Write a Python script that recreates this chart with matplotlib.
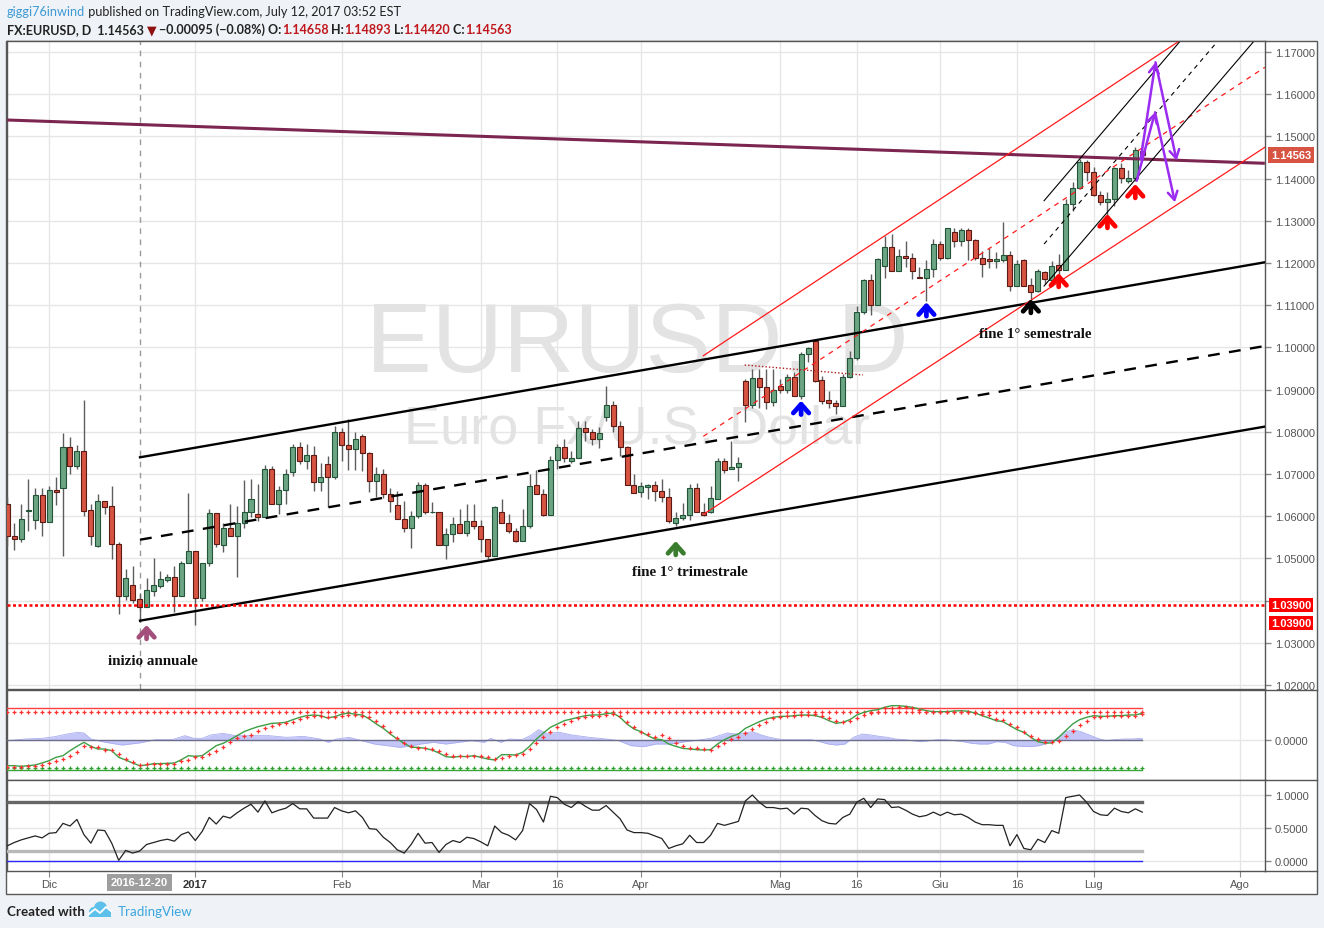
import numpy as np
import pandas as pd
import matplotlib
matplotlib.use("Agg")
import matplotlib.pyplot as plt
from matplotlib.patches import Rectangle, Ellipse
from matplotlib.lines import Line2D
from matplotlib.transforms import blended_transform_factory

W, H, DPI = 1324, 929, 100

# ---------------------------------------------------------------- data
bar_dates = pd.bdate_range("2016-11-23", "2017-07-12").drop(
    pd.to_datetime(["2016-12-26", "2017-01-02"]))

opens = [
    1.0629, 1.0554, 1.0547, 1.0612, 1.0592, 1.0650, 1.0587, 1.0661, 1.0666, 1.0763,
    1.0718, 1.0754, 1.0615, 1.0530, 1.0636, 1.0624, 1.0534, 1.0412, 1.0438, 1.0404,
    1.0385, 1.0423, 1.0435, 1.0449, 1.0457, 1.0410, 1.0489, 1.0517, 1.0405, 1.0488,
    1.0607, 1.0532, 1.0571, 1.0554, 1.0583, 1.0611, 1.0605, 1.0597, 1.0713, 1.0630,
    1.0663, 1.0704, 1.0763, 1.0730, 1.0746, 1.0680, 1.0724, 1.0692, 1.0799, 1.0769,
    1.0759, 1.0789, 1.0750, 1.0684, 1.0699, 1.0652, 1.0626, 1.0593, 1.0573, 1.0600,
    1.0675, 1.0609, 1.0609, 1.0532, 1.0557, 1.0581, 1.0560, 1.0588, 1.0576, 1.0547,
    1.0505, 1.0611, 1.0583, 1.0564, 1.0542, 1.0577, 1.0675, 1.0652, 1.0603, 1.0733,
    1.0765, 1.0731, 1.0739, 1.0810, 1.0799, 1.0784, 1.0834, 1.0863, 1.0813, 1.0765,
    1.0674, 1.0658, 1.0670, 1.0674, 1.0660, 1.0645, 1.0585, 1.0595, 1.0604, 1.0666,
    1.0611, 1.0611, 1.0641, 1.0730, 1.0712, 1.0716, 1.0920, 1.0864, 1.0927, 1.0906,
    1.0870, 1.0909, 1.0898, 1.0931, 1.0884, 1.0984, 1.1016, 1.0923, 1.0875, 1.0868,
    1.0862, 1.0929, 1.0976, 1.1083, 1.1160, 1.1100, 1.1194, 1.1237, 1.1182, 1.1217,
    1.1211, 1.1168, 1.1164, 1.1186, 1.1245, 1.1211, 1.1274, 1.1253, 1.1278, 1.1255,
    1.1213, 1.1209, 1.1204, 1.1208, 1.1219, 1.1145, 1.1206, 1.1148, 1.1133, 1.1178,
    1.1160, 1.1196, 1.1183, 1.1340, 1.1377, 1.1439, 1.1416, 1.1362, 1.1345, 1.1352,
    1.1424, 1.1395, 1.1401, 1.14658]
highs = [
    1.0645, 1.0585, 1.0629, 1.0688, 1.0668, 1.0668, 1.0672, 1.0692, 1.0797, 1.0787,
    1.0769, 1.0876, 1.0629, 1.0652, 1.0636, 1.0671, 1.0540, 1.0475, 1.0483, 1.0419,
    1.0453, 1.0501, 1.0471, 1.0463, 1.0481, 1.0494, 1.0655, 1.0517, 1.0489, 1.0617,
    1.0607, 1.0585, 1.0629, 1.0625, 1.0686, 1.0688, 1.0676, 1.0721, 1.0718, 1.0671,
    1.0712, 1.0771, 1.0776, 1.0770, 1.0767, 1.0726, 1.0743, 1.0814, 1.0808, 1.0830,
    1.0799, 1.0795, 1.0751, 1.0716, 1.0712, 1.0668, 1.0659, 1.0637, 1.0613, 1.0680,
    1.0678, 1.0633, 1.0609, 1.0573, 1.0597, 1.0618, 1.0630, 1.0630, 1.0592, 1.0547,
    1.0625, 1.0641, 1.0605, 1.0573, 1.0617, 1.0700, 1.0710, 1.0664, 1.0742, 1.0770,
    1.0783, 1.0755, 1.0825, 1.0826, 1.0806, 1.0812, 1.0909, 1.0874, 1.0826, 1.0767,
    1.0701, 1.0682, 1.0676, 1.0684, 1.0687, 1.0668, 1.0609, 1.0631, 1.0676, 1.0679,
    1.0631, 1.0671, 1.0737, 1.0737, 1.0779, 1.0741, 1.0925, 1.0950, 1.0950, 1.0949,
    1.0949, 1.0925, 1.0937, 1.0941, 1.0988, 1.1000, 1.1020, 1.0933, 1.0897, 1.0876,
    1.0937, 1.0992, 1.1099, 1.1162, 1.1174, 1.1213, 1.1265, 1.1269, 1.1233, 1.1251,
    1.1224, 1.1190, 1.1206, 1.1257, 1.1253, 1.1284, 1.1284, 1.1284, 1.1284, 1.1257,
    1.1229, 1.1235, 1.1225, 1.1296, 1.1229, 1.1206, 1.1210, 1.1164, 1.1185, 1.1180,
    1.1205, 1.1221, 1.1352, 1.1391, 1.1447, 1.1445, 1.1427, 1.1371, 1.1369, 1.1427,
    1.1438, 1.1420, 1.1474, 1.14893]
lows = [
    1.0530, 1.0521, 1.0539, 1.0566, 1.0570, 1.0554, 1.0587, 1.0626, 1.0506, 1.0700,
    1.0712, 1.0601, 1.0532, 1.0528, 1.0605, 1.0498, 1.0368, 1.0402, 1.0394, 1.0350,
    1.0385, 1.0410, 1.0430, 1.0443, 1.0372, 1.0410, 1.0489, 1.0343, 1.0400, 1.0483,
    1.0526, 1.0514, 1.0554, 1.0457, 1.0573, 1.0597, 1.0589, 1.0597, 1.0629, 1.0605,
    1.0629, 1.0696, 1.0724, 1.0713, 1.0660, 1.0660, 1.0621, 1.0688, 1.0731, 1.0710,
    1.0710, 1.0708, 1.0658, 1.0645, 1.0642, 1.0611, 1.0593, 1.0563, 1.0524, 1.0595,
    1.0605, 1.0607, 1.0532, 1.0498, 1.0539, 1.0560, 1.0554, 1.0570, 1.0516, 1.0498,
    1.0505, 1.0583, 1.0560, 1.0538, 1.0542, 1.0572, 1.0652, 1.0601, 1.0603, 1.0712,
    1.0729, 1.0727, 1.0739, 1.0779, 1.0769, 1.0761, 1.0826, 1.0800, 1.0743, 1.0674,
    1.0655, 1.0645, 1.0641, 1.0635, 1.0633, 1.0584, 1.0576, 1.0592, 1.0592, 1.0609,
    1.0601, 1.0608, 1.0640, 1.0702, 1.0712, 1.0684, 1.0824, 1.0856, 1.0856, 1.0854,
    1.0860, 1.0892, 1.0892, 1.0884, 1.0878, 1.0965, 1.0917, 1.0866, 1.0856, 1.0842,
    1.0860, 1.0927, 1.0970, 1.1079, 1.1077, 1.1100, 1.1164, 1.1180, 1.1182, 1.1190,
    1.1162, 1.1164, 1.1111, 1.1168, 1.1206, 1.1210, 1.1237, 1.1241, 1.1206, 1.1206,
    1.1168, 1.1188, 1.1188, 1.1202, 1.1134, 1.1145, 1.1145, 1.1115, 1.1131, 1.1150,
    1.1158, 1.1168, 1.1183, 1.1324, 1.1375, 1.1395, 1.1358, 1.1338, 1.1308, 1.1336,
    1.1390, 1.1390, 1.1395, 1.14420]
closes = [
    1.0554, 1.0547, 1.0593, 1.0614, 1.0650, 1.0587, 1.0662, 1.0658, 1.0763, 1.0718,
    1.0754, 1.0613, 1.0554, 1.0636, 1.0622, 1.0533, 1.0412, 1.0453, 1.0402, 1.0385,
    1.0425, 1.0437, 1.0451, 1.0457, 1.0410, 1.0489, 1.0518, 1.0406, 1.0489, 1.0607,
    1.0533, 1.0571, 1.0554, 1.0583, 1.0611, 1.0640, 1.0597, 1.0713, 1.0630, 1.0663,
    1.0699, 1.0763, 1.0730, 1.0746, 1.0680, 1.0692, 1.0692, 1.0799, 1.0769, 1.0759,
    1.0784, 1.0750, 1.0684, 1.0699, 1.0652, 1.0635, 1.0593, 1.0573, 1.0600, 1.0675,
    1.0609, 1.0610, 1.0532, 1.0557, 1.0581, 1.0560, 1.0588, 1.0576, 1.0547, 1.0505,
    1.0622, 1.0583, 1.0564, 1.0542, 1.0577, 1.0671, 1.0652, 1.0603, 1.0733, 1.0765,
    1.0739, 1.0739, 1.0810, 1.0799, 1.0784, 1.0797, 1.0863, 1.0813, 1.0765, 1.0674,
    1.0656, 1.0671, 1.0673, 1.0660, 1.0645, 1.0589, 1.0595, 1.0604, 1.0666, 1.0611,
    1.0603, 1.0642, 1.0730, 1.0710, 1.0716, 1.0725, 1.0864, 1.0927, 1.0906, 1.0870,
    1.0898, 1.0898, 1.0931, 1.0884, 1.0984, 1.0998, 1.0921, 1.0874, 1.0868, 1.0862,
    1.0931, 1.0976, 1.1083, 1.1160, 1.1100, 1.1209, 1.1237, 1.1182, 1.1217, 1.1211,
    1.1180, 1.1164, 1.1186, 1.1245, 1.1211, 1.1282, 1.1253, 1.1278, 1.1255, 1.1213,
    1.1198, 1.1204, 1.1209, 1.1219, 1.1145, 1.1198, 1.1146, 1.1132, 1.1180, 1.1162,
    1.1193, 1.1184, 1.1340, 1.1377, 1.1439, 1.1416, 1.1362, 1.1345, 1.1352, 1.1424,
    1.1401, 1.1401, 1.1468, 1.14563]

# oscillator panel (green line, trailing red crosses, blue area)
osc_green = [
    -77, -77, -79, -77, -75, -69, -62, -52, -47, -32,
    -19, -7, -19, -27, -27, -32, -52, -60, -69, -77,
    -75, -71, -71, -70, -69, -59, -47, -49, -47, -32,
    -17, -10, 1, 13, 25, 33, 40, 45, 50, 51,
    53, 61, 68, 73, 75, 73, 66, 70, 77, 81,
    77, 75, 63, 48, 35, 18, 3, -10, -22, -22,
    -25, -30, -39, -50, -52, -49, -50, -47, -52, -57,
    -60, -44, -44, -45, -37, -19, 3, 21, 38, 48,
    58, 63, 68, 73, 75, 75, 79, 81, 68, 48,
    33, 25, 13, 3,
    1, -12, -19, -25, -27, -29, -30, -29, -12, 1,
    11, 18, 35, 45, 55, 63, 68, 71, 71, 73,
    75, 75, 73, 68, 58, 50, 53, 61, 75, 83,
    88, 91, 98, 103, 103, 101, 98, 93, 88, 85,
    85, 85, 87, 88, 86, 81, 73, 66, 58, 55,
    43, 31, 23, 8, -5, -9, -9, 8, 28, 48,
    61, 68, 73, 71, 71, 73, 73, 75, 75, 80]
osc_red = [
    -82, -82, -82, -79, -77, -75, -69, -64, -57, -47,
    -37, -19, -22, -22, -29, -30, -42, -57, -67, -74,
    -72, -72, -72, -72, -71, -63, -59, -51, -51, -42,
    -32, -22, -7, 5, 13, 15, 28, 35, 43, 48,
    51, 55, 63, 68, 71, 71, 68, 68, 71, 75,
    75, 73, 68, 58, 43, 23, 5, -9, -19, -25,
    -25, -27, -32, -42, -47, -47, -49, -49, -47, -52,
    -57, -55, -47, -45, -42, -27, -9, 8, 25, 38,
    48, 58, 65, 68, 73, 73, 75, 78, 73, 53,
    38, 25, 18, 8,
    15, 5, -9, -19, -24, -25, -27, -29, -19, -9,
    3, 8, 21, 33, 45, 55, 65, 68, 71, 73,
    75, 75, 78, 73, 65, 58, 53, 58, 65, 75,
    81, 85, 95, 95, 98, 98, 95, 91, 85, 85,
    85, 85, 85, 85, 83, 81, 78, 75, 63, 61,
    48, 38, 25, 13, 3, -5, -7, -2, 13, 28,
    45, 58, 68, 68, 71, 71, 71, 73, 73, 78]
area_x = [0.2, 2.6, 5.0, 6.8, 8.6, 10.1, 11.0, 12.0, 14.1, 16.5, 18.9, 21.3, 23.7, 25.5,
          26.8, 28.0, 29.2, 31.0, 32.8, 35.2, 37.6, 40.1, 42.5, 44.9, 46.1, 47.3, 49.1,
          50.9, 52.7, 54.6, 56.4, 58.2, 59.4, 61.2, 63.0, 64.8, 66.7, 68.5, 69.4, 70.9,
          72.1, 73.9, 75.1, 76.3, 77.5, 79.3, 81.1, 83.6, 86.0, 87.8, 89.6, 91.4, 93.2,
          94.9, 96.2, 97.4, 98.6, 99.8, 101.0, 102.2, 103.4, 104.6, 105.8, 107.0, 108.3,
          109.5, 110.7, 111.9, 113.1, 114.3, 115.5, 116.7, 117.9, 119.1, 120.3, 121.5,
          122.8, 124.0, 125.2, 126.4, 127.6, 128.8, 130.0, 131.2, 132.4, 133.6, 134.8,
          136.1, 137.3, 138.5, 139.7, 140.9, 142.1, 143.3, 144.5, 145.7, 146.9, 148.2,
          149.4, 150.6, 151.8, 153.0, 154.2, 155.4, 156.6, 157.8, 159.0, 160.3, 161.5,
          163.0]
area_v = [-2, 3, 5, 10, 18, 23, 21, 3, -7, -15, -9, 1, 1, 13,
          5, 5, 15, 20, 13, 13, 13, 8, 11, 3, -7, 3, 8,
          -2, -12, -17, -22, -17, -12, -7, -12, -7, -2, -7, 5, -7,
          3, 1, 13, 31, 20, 23, 15, 8, 3, -2, -17, -20, -12,
          -12, -9, -5, -2, 1, 5, 13, 21, 18, 21, 25, 15,
          8, 3, 1, 1, 1, 1, -5, -12, -15, -12, 8,
          18, 15, 11, 8, 3, 1, -2, -5, -2, 1, 1,
          -2, -5, -10, -12, -12, -5, -7, -17, -19, -20, -17,
          -9, 3, 23, 31, 25, 15, 5, -2, 1, 3, 3,
          5]
osc_upper, osc_upper_dots = 95, 83
osc_lower, osc_lower_dots = -91, -83

stoch = [
    0.23, 0.28, 0.32, 0.35, 0.38, 0.35, 0.42, 0.43, 0.57, 0.53,
    0.63, 0.40, 0.27, 0.47, 0.46, 0.27, 0.01, 0.16, 0.12, 0.15,
    0.25, 0.28, 0.31, 0.33, 0.30, 0.40, 0.44, 0.31, 0.45, 0.66,
    0.56, 0.68, 0.65, 0.73, 0.80, 0.86, 0.74, 0.91, 0.73, 0.77,
    0.80, 0.87, 0.79, 0.79, 0.65, 0.65, 0.65, 0.81, 0.76, 0.73,
    0.76, 0.66, 0.49, 0.48, 0.36, 0.28, 0.17, 0.12, 0.25, 0.42,
    0.27, 0.28, 0.13, 0.25, 0.31, 0.28, 0.36, 0.34, 0.29, 0.23,
    0.53, 0.43, 0.39, 0.32, 0.46, 0.87, 0.78, 0.59, 0.98, 0.96,
    0.86, 0.81, 0.90, 0.83, 0.77, 0.77, 0.84, 0.74, 0.64, 0.47,
    0.43, 0.43, 0.42, 0.38,
    0.34, 0.19, 0.23, 0.26, 0.39, 0.28, 0.28, 0.39, 0.57, 0.54,
    0.57, 0.60, 0.91, 1.00, 0.89, 0.81, 0.81, 0.79, 0.80, 0.71,
    0.80, 0.79, 0.69, 0.61, 0.57, 0.56, 0.66, 0.71, 0.89, 0.95,
    0.81, 0.94, 0.93, 0.81, 0.82, 0.77, 0.71, 0.67, 0.69, 0.74,
    0.69, 0.74, 0.70, 0.71, 0.66, 0.59, 0.55, 0.55, 0.54, 0.54,
    0.23, 0.40, 0.19, 0.17, 0.33, 0.28, 0.46, 0.42, 0.96, 0.98,
    1.00, 0.89, 0.75, 0.70, 0.69, 0.80, 0.75, 0.73, 0.79, 0.74]
stoch_high, stoch_low = 0.9, 0.15

price_ticks = [1.02, 1.03, 1.04, 1.05, 1.06, 1.07, 1.08, 1.09, 1.10, 1.11,
               1.12, 1.13, 1.14, 1.15, 1.16, 1.17]
tick_dates = ["2016-12-01", "2017-01-03", "2017-02-01", "2017-03-01", "2017-03-16",
              "2017-04-03", "2017-05-01", "2017-05-16", "2017-06-01", "2017-06-16",
              "2017-07-03", "2017-08-01"]
tick_texts = ["Dic", "2017", "Feb", "Mar", "16", "Apr", "Mag", "16", "Giu", "16", "Lug", "Ago"]
cursor_date = "2016-12-20"

last_price = 1.14563
support_level = 1.039

# drawings: (bar, price) endpoints
maroon_line = [(-0.04, 1.15389), (180.6, 1.14363)]
chan_upper = [(19.06, 1.07396), (180.6, 1.12017)]
chan_mid = [(19.06, 1.05443), (180.6, 1.10033)]
chan_lower = [(19.06, 1.03524), (180.6, 1.08123)]
red_upper = [(99.96, 1.09803), (168.1, 1.17237)]
red_mid = [(99.96, 1.07893), (180.6, 1.16637)]
red_lower = [(100.2, 1.06069), (180.6, 1.14742)]
neckline = [(105.9, 1.09583), (122.9, 1.09346)]
fork_upper = [(148.9, 1.13476), (168.3, 1.17230)]
fork_mid = [(148.9, 1.12450), (173.7, 1.17230)]
fork_lower = [(148.9, 1.11455), (178.9, 1.17230)]
purple_big = [(162.77, 1.14464), (164.9, 1.16756), (167.94, 1.14424)]
purple_small = [(162.2, 1.13950), (164.83, 1.15571), (167.7, 1.13438)]

marks = [(20, 1.03422, "#a24f7c"), (96, 1.05412, "#3b7d2f"), (114, 1.08737, "#0000ff"),
         (132, 1.11069, "#0000ff"), (147, 1.11147, "#000000"), (151, 1.11763, "#ff0000"),
         (158, 1.13161, "#ff0000"), (162, 1.13872, "#ff0000")]
notes = [("inizio annuale", 20.93, 1.02569), ("fine 1° trimestrale", 98.05, 1.04701),
         ("fine 1° semestrale", 147.7, 1.10318)]

# ---------------------------------------------------------------- figure
plt.rcParams["font.family"] = ["Liberation Sans", "DejaVu Sans"]
fig = plt.figure(figsize=(W / DPI, H / DPI), dpi=DPI, facecolor="#eff2f6")


def fx(px):
    return px / W


def fy(py):
    return 1 - py / H


# white chart area with frame (behind the axes)
fig.patches.append(Rectangle((fx(6), fy(895)), (1317 - 6) / W, (895 - 42) / H,
                             transform=fig.transFigure, fc="white", ec="#5a5a5a",
                             lw=1, zorder=-5))

L, R = 6.5, 1265
ax = fig.add_axes([fx(L), fy(690), (R - L) / W, (690 - 42) / H])
ax1 = fig.add_axes([fx(L), fy(780.5), (R - L) / W, (780.5 - 691) / H])
ax2 = fig.add_axes([fx(L), fy(872), (R - L) / W, (872 - 781) / H])

n = len(closes)
x = np.arange(n)
o, h, l, c = map(np.array, (opens, highs, lows, closes))
xlim = ((L - 7.3) / 6.963, (R - 7.3) / 6.963)

future = pd.bdate_range("2017-07-13", "2017-08-31")
all_days = bar_dates.append(future)
tick_pos = [all_days.get_loc(pd.Timestamp(d)) for d in tick_dates]
cursor_pos = bar_dates.get_loc(pd.Timestamp(cursor_date))

for a in (ax, ax1, ax2):
    a.set_xlim(*xlim)
    a.set_facecolor("white")
    a.set_xticks(tick_pos)
    a.grid(True, color="#e6e6e6", lw=1)
    a.set_axisbelow(True)
    for s in a.spines.values():
        s.set_color("#555555")
        s.set_linewidth(1)
    a.yaxis.tick_right()
    a.tick_params(axis="y", direction="out", length=4, width=1, color="#888888",
                  pad=3, labelsize=8, labelcolor="#555555")
    a.tick_params(axis="x", length=0, labelbottom=False)

# ---------------------------------------------------------------- main panel
ax.set_ylim(1.01905, 1.17261)
ax.set_yticks(price_ticks)
# the 1.04000 label sits under the 1.03900 level tags, as in the original
ax.set_yticklabels(["" if abs(t - support_level) < 0.005 else f"{t:.5f}"
                    for t in price_ticks])

# watermark (inside the axes, under the candles)
ax.text(fx(637), fy(372), "EURUSD, D", fontsize=71, color="#e3e3e3",
        ha="center", va="baseline", zorder=1, transform=fig.transFigure)
ax.text(fx(637), fy(444), "Euro Fx/U.S. Dollar", fontsize=39, color="#e3e3e3",
        ha="center", va="baseline", zorder=1, transform=fig.transFigure)

ax.axvline(cursor_pos, color="#9a9a9a", lw=1, ls=(0, (4, 4)), zorder=1)

up = c >= o
body_lo = np.minimum(o, c)
body_h = np.maximum(np.abs(c - o), 0.00012)
ax.vlines(x, l, h, color="#5d5d5d", lw=1, zorder=3)
ax.bar(x[up], body_h[up], bottom=body_lo[up], width=0.72, color="#6ba583",
       edgecolor="#225437", lw=0.8, zorder=4)
ax.bar(x[~up], body_h[~up], bottom=body_lo[~up], width=0.72, color="#d75442",
       edgecolor="#5b1a13", lw=0.8, zorder=4)


def seg(pts, **kw):
    xs, ys = zip(*pts)
    ax.plot(xs, ys, **kw)


seg(maroon_line, color="#7b2550", lw=2.2, zorder=5, solid_capstyle="butt")
for ln in (chan_upper, chan_lower):
    seg(ln, color="#000000", lw=1.7, zorder=5)
seg(chan_mid, color="#000000", lw=1.7, ls=(0, (5, 4)), zorder=5)
seg(red_upper, color="#ff1a1a", lw=0.9, zorder=5)
seg(red_lower, color="#ff1a1a", lw=0.9, zorder=5)
seg(red_mid, color="#ff1a1a", lw=0.9, ls=(0, (4, 4)), zorder=5)
seg(neckline, color="#b02020", lw=1.0, ls=(0, (1, 1.5)), zorder=5)
seg(fork_upper, color="#000000", lw=0.8, zorder=5)
seg(fork_lower, color="#000000", lw=0.8, zorder=5)
seg(fork_mid, color="#000000", lw=0.8, ls=(0, (4, 4)), zorder=5)
ax.axhline(support_level, color="#ff0000", lw=1.8, ls=(0, (1.2, 1.0)), zorder=5)

# purple projection arrows
for path in (purple_big, purple_small):
    for p0, p1 in zip(path[:-1], path[1:]):
        ax.annotate("", xy=p1, xytext=p0,
                    arrowprops=dict(arrowstyle="->,head_length=0.6,head_width=0.35",
                                    color="#9b2cf0", lw=1.8, shrinkA=0, shrinkB=0),
                    zorder=7)

# marker arrows
for bx, py, col in marks:
    ax.annotate("", xy=(bx, py), xytext=(0, -10), textcoords="offset points",
                arrowprops=dict(arrowstyle="->,head_length=0.45,head_width=0.4",
                                color=col, lw=3.4, shrinkA=0, shrinkB=0,
                                mutation_scale=14),
                zorder=8)

for txt, bx, py in notes:
    ax.text(bx, py, txt, family="Liberation Serif", fontweight="bold", fontsize=10.8,
            color="#111111", ha="center", va="center", zorder=8)

# price labels on the axis
ytrans = blended_transform_factory(ax.transAxes, ax.transData)
ax.annotate(f"{last_price:.5f}", xy=(1, last_price), xycoords=ytrans,
            xytext=(4.2, 0), textcoords="offset points", ha="left", va="center",
            fontsize=8, fontweight="bold", color="white", annotation_clip=False,
            bbox=dict(boxstyle="square,pad=0.25", fc="#d75442", ec="none"), zorder=9)
for dy in (0, -13.2):
    ax.annotate(f"{support_level:.5f}", xy=(1, support_level), xycoords=ytrans,
                xytext=(4.2, dy), textcoords="offset points", ha="left", va="center",
                fontsize=8, fontweight="bold", color="white", annotation_clip=False,
                bbox=dict(boxstyle="square,pad=0.2", fc="#ff0000", ec="none"), zorder=9)

# ---------------------------------------------------------------- oscillator panel
ax1.set_ylim(-118.5, 150)
ax1.set_yticks([0])
ax1.set_yticklabels(["0.0000"])
ax1.fill_between(area_x, area_v, 0, color="#c3c6f6", lw=0, zorder=2)
ax1.plot(area_x, area_v, color="#a9adf0", lw=0.6, zorder=2)
ax1.plot([0, n - 1], [0, 0], color="#6d6d8c", lw=1, zorder=3)
ax1.plot([xlim[0], n - 1], [osc_upper, osc_upper], color="#ff4040", lw=1, zorder=3)
ax1.plot([xlim[0], n - 1], [osc_lower, osc_lower], color="#3aa63a", lw=1, zorder=3)
ax1.plot(x, np.full(n, osc_upper_dots), ls="none", marker="+", ms=3.5, mew=0.9,
         color="#ff3030", zorder=4)
ax1.plot(x, np.full(n, osc_lower_dots), ls="none", marker="+", ms=3.5, mew=0.9,
         color="#2ea02e", zorder=4)
ax1.plot(x, osc_green, color="#3c9f45", lw=1, zorder=5)
ax1.plot(x, osc_red, ls="none", marker="+", ms=3.5, mew=0.9, color="#ff3030", zorder=6)

# ---------------------------------------------------------------- range panel
ax2.set_ylim(-0.1515, 1.227)
ax2.set_yticks([0, 0.5, 1.0])
ax2.set_yticklabels(["0.0000", "0.5000", "1.0000"])
ax2.plot([xlim[0], n - 1], [stoch_high, stoch_high], color="#666666", lw=2.4, zorder=3)
ax2.plot([xlim[0], n - 1], [stoch_low, stoch_low], color="#b8b8b8", lw=2.4, zorder=3)
ax2.plot([xlim[0], n - 1], [0, 0], color="#2828ff", lw=1, zorder=3)
ax2.plot(x, stoch, color="#222222", lw=0.9, zorder=5)

ax2.tick_params(axis="x", length=4, color="#888888", labelbottom=True, labelsize=8,
                labelcolor="#555555", pad=2)
ax2.set_xticklabels(tick_texts)
for lab, t in zip(ax2.get_xticklabels(), tick_texts):
    if t == "2017":
        lab.set_fontweight("bold")
        lab.set_color("#333333")
ax2.annotate(cursor_date, xy=(cursor_pos, 0), xycoords=("data", "axes fraction"),
             xytext=(0, -8.2), textcoords="offset points", ha="center", va="center",
             fontsize=8, fontweight="bold", color="white", annotation_clip=False,
             bbox=dict(boxstyle="square,pad=0.35", fc="#9e9e9e", ec="none"))

# separators through the price-axis column
for yy in (691, 781, 872):
    fig.add_artist(Line2D([fx(R), fx(1317)], [fy(yy), fy(yy)], color="#555555", lw=1))

# ---------------------------------------------------------------- header / footer
renderer = fig.canvas.get_renderer()


def chain(x_px, y_px, parts, size):
    xx = x_px
    for s, col, wt in parts:
        t = fig.text(fx(xx), fy(y_px), s, color=col, fontsize=size, fontweight=wt,
                     family=["Lato", "DejaVu Sans"], ha="left", va="baseline")
        xx += t.get_window_extent(renderer).width
    return xx


chain(7, 16, [("giggi76inwind", "#3d9ad6", "normal"),
              (" published on TradingView.com, July 12, 2017 03:52 EST", "#222222", "normal")],
      9.05)
dark, red = "#222222", "#c0171c"
chain(7, 34, [("FX:EURUSD, D  1.14563 ", dark, "bold"), ("▼", "#8e1010", "bold"),
              (" \u22120.00095 (\u22120.08%) O:", dark, "bold"), ("1.14658", red, "bold"),
              (" H:", dark, "bold"), ("1.14893", red, "bold"), (" L:", dark, "bold"),
              ("1.14420", red, "bold"), (" C:", dark, "bold"), ("1.14563", red, "bold")],
      9.0)

fig.text(fx(7), fy(916), "Created with", fontsize=9.6, fontweight="bold", color="#222222",
         family=["Lato", "DejaVu Sans"], ha="left", va="baseline")
fig.text(fx(118), fy(916), "TradingView", fontsize=9.6, color="#3ca6de",
         family=["Lato", "DejaVu Sans"], ha="left", va="baseline")
for cx, cy, rr in [(94, 913, 5.0), (100.5, 909, 6.5), (106.5, 913, 4.5)]:
    fig.patches.append(Ellipse((fx(cx), fy(cy)), 2 * rr / W, 2 * rr / H,
                               transform=fig.transFigure, fc="#5cc0ea", ec="none"))
fig.patches.append(Rectangle((fx(89), fy(918)), 22 / W, 5 / H, transform=fig.transFigure,
                             fc="#5cc0ea", ec="none"))
fig.add_artist(Line2D([fx(p) for p in (89, 95, 100, 106, 111)],
                      [fy(p) for p in (915, 910, 914, 908, 912)], color="white", lw=1.3))

fig.savefig("out.png", dpi=DPI, facecolor=fig.get_facecolor())
